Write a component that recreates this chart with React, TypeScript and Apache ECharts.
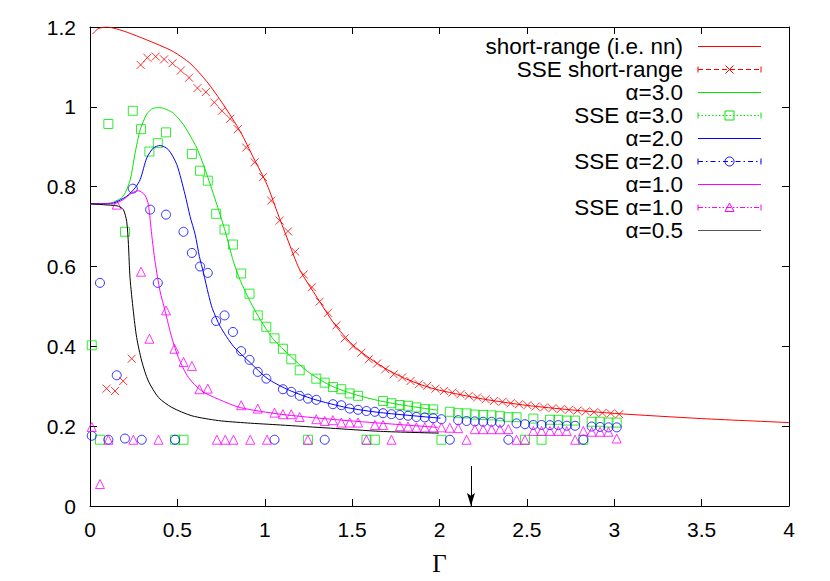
import React, { useEffect, useRef } from 'react';
import * as echarts from 'echarts';

// ---------- data (Γ, value) ----------
const shortRangeCurve = [
  [0.013, 1.182], [0.048, 1.196], [0.096, 1.2], [0.17, 1.193], [0.23, 1.184], [0.3, 1.172],
  [0.4, 1.154], [0.478, 1.138], [0.573, 1.109], [0.669, 1.063], [0.764, 1.005], [0.86, 0.938],
  [0.936, 0.872], [1.013, 0.805], [1.07, 0.738], [1.127, 0.672], [1.2, 0.592], [1.3, 0.522],
  [1.4, 0.455], [1.5, 0.405], [1.6, 0.37], [1.7, 0.342], [1.8, 0.32], [1.9, 0.303], [2.0, 0.29],
  [2.25, 0.268], [2.5, 0.252], [2.75, 0.241], [3.0, 0.232], [3.5, 0.219], [4.0, 0.209],
];
const alpha3Curve = [
  [0, 0.757], [0.1, 0.758], [0.134, 0.761], [0.19, 0.776], [0.23, 0.8175], [0.258, 0.884],
  [0.287, 0.942], [0.325, 0.982], [0.36, 0.996], [0.401, 0.998], [0.44, 0.993], [0.478, 0.984],
  [0.535, 0.955], [0.611, 0.897], [0.669, 0.83], [0.726, 0.755], [0.774, 0.688], [0.821, 0.612],
  [0.86, 0.565], [0.917, 0.512], [0.974, 0.467], [1.05, 0.4175], [1.146, 0.376], [1.242, 0.338],
  [1.375, 0.302], [1.51, 0.28], [1.662, 0.263], [1.8, 0.252], [1.99, 0.24],
];
const alpha2Curve = [
  [0, 0.757], [0.1, 0.758], [0.134, 0.759], [0.21, 0.776], [0.258, 0.797], [0.287, 0.8175],
  [0.325, 0.872], [0.363, 0.897], [0.401, 0.903], [0.449, 0.8925], [0.497, 0.855], [0.544, 0.78],
  [0.573, 0.725], [0.602, 0.68], [0.626, 0.625], [0.649, 0.585], [0.678, 0.53], [0.7, 0.495],
  [0.745, 0.45], [0.821, 0.4], [0.917, 0.359], [1.013, 0.32], [1.127, 0.2925], [1.28, 0.2675],
  [1.47, 0.2465], [1.662, 0.234], [2.006, 0.22],
];
const alpha1Curve = [
  [0, 0.757], [0.134, 0.757], [0.19, 0.7675], [0.239, 0.784], [0.277, 0.79], [0.315, 0.778],
  [0.334, 0.755], [0.353, 0.68], [0.372, 0.613], [0.401, 0.538], [0.43, 0.488], [0.468, 0.422],
  [0.506, 0.372], [0.563, 0.322], [0.64, 0.288], [0.735, 0.2675], [0.86, 0.2465], [1.089, 0.23],
  [1.375, 0.2175], [1.662, 0.2075], [1.99, 0.197],
];
const alpha05Curve = [
  [0, 0.757], [0.134, 0.753], [0.162, 0.751], [0.191, 0.7425], [0.21, 0.713], [0.22, 0.655],
  [0.229, 0.572], [0.248, 0.488], [0.267, 0.422], [0.296, 0.363], [0.334, 0.313], [0.392, 0.272],
  [0.468, 0.247], [0.583, 0.226], [0.735, 0.214], [0.9, 0.208], [1.089, 0.203], [1.375, 0.195],
  [1.662, 0.187], [1.996, 0.1825],
];

const sseShortRange = [
  [0.095, 0.294], [0.143, 0.288], [0.19, 0.313], [0.239, 0.369], [0.29, 1.105], [0.328, 1.123],
  [0.376, 1.126], [0.424, 1.119], [0.472, 1.109], [0.52, 1.091], [0.567, 1.073], [0.615, 1.047],
  [0.663, 1.037], [0.711, 1.011], [0.755, 0.99], [0.802, 0.97], [0.846, 0.944], [0.894, 0.898],
  [0.942, 0.861], [0.99, 0.824], [1.037, 0.765], [1.085, 0.715], [1.133, 0.688], [1.175, 0.637],
  [1.223, 0.58], [1.27, 0.548], [1.314, 0.512], [1.362, 0.484], [1.41, 0.4525], [1.457, 0.42],
  [1.505, 0.4], [1.553, 0.384], [1.595, 0.3675], [1.643, 0.357], [1.69, 0.3425], [1.738, 0.33],
  [1.786, 0.322], [1.834, 0.313], [1.882, 0.305], [1.93, 0.301], [1.977, 0.294], [2.025, 0.288],
  [2.073, 0.284], [2.12, 0.28], [2.168, 0.276], [2.216, 0.272], [2.264, 0.2675], [2.311, 0.263],
  [2.36, 0.261], [2.407, 0.2575], [2.455, 0.255], [2.503, 0.2525], [2.55, 0.249], [2.598, 0.247],
  [2.646, 0.245], [2.693, 0.2425], [2.741, 0.241], [2.789, 0.239], [2.837, 0.237], [2.884, 0.235],
  [2.932, 0.233], [2.98, 0.232], [3.028, 0.23],
];
const sseAlpha3 = [
  [0.01, 0.4025], [0.057, 0.166], [0.105, 0.957], [0.2, 0.687], [0.245, 0.99], [0.292, 0.944],
  [0.34, 0.888], [0.388, 0.909], [0.435, 0.936], [0.487, 0.166], [0.535, 0.166], [0.583, 0.882],
  [0.63, 0.84], [0.674, 0.815], [0.722, 0.732], [0.77, 0.6925], [0.818, 0.655], [0.865, 0.5825],
  [0.913, 0.532], [0.96, 0.4775], [1.009, 0.449], [1.056, 0.42], [1.104, 0.394], [1.152, 0.3675],
  [1.2, 0.34], [1.247, 0.166], [1.295, 0.319], [1.343, 0.309], [1.39, 0.298], [1.438, 0.2925],
  [1.486, 0.282], [1.534, 0.276], [1.582, 0.166], [1.63, 0.166], [1.677, 0.263], [1.725, 0.2575],
  [1.773, 0.253], [1.82, 0.251], [1.868, 0.247], [1.916, 0.2425], [1.964, 0.242], [2.011, 0.166],
  [2.059, 0.236], [2.107, 0.2325], [2.155, 0.232], [2.202, 0.229], [2.25, 0.228], [2.298, 0.227],
  [2.346, 0.225], [2.394, 0.2225], [2.441, 0.2225], [2.489, 0.166], [2.537, 0.219], [2.584, 0.166],
  [2.632, 0.216], [2.68, 0.216], [2.728, 0.214], [2.776, 0.214], [2.823, 0.166], [2.871, 0.211],
  [2.919, 0.211], [2.967, 0.209], [3.014, 0.209],
];
const sseAlpha2 = [
  [0.01, 0.176], [0.057, 0.559], [0.105, 0.166], [0.153, 0.3275], [0.2, 0.169], [0.245, 0.795],
  [0.296, 0.166], [0.344, 0.7425], [0.388, 0.559], [0.435, 0.73], [0.487, 0.166], [0.535, 0.687],
  [0.583, 0.634], [0.63, 0.6], [0.674, 0.584], [0.722, 0.4635], [0.77, 0.4775], [0.818, 0.436],
  [0.865, 0.388], [0.913, 0.366], [0.96, 0.336], [1.009, 0.319], [1.056, 0.166], [1.104, 0.2925],
  [1.152, 0.286], [1.2, 0.276], [1.247, 0.269], [1.295, 0.266], [1.343, 0.166], [1.39, 0.255],
  [1.438, 0.2525], [1.486, 0.244], [1.534, 0.241], [1.582, 0.238], [1.63, 0.236], [1.677, 0.2325],
  [1.725, 0.23], [1.773, 0.228], [1.82, 0.226], [1.868, 0.223], [1.916, 0.222], [1.964, 0.22],
  [2.011, 0.2175], [2.059, 0.166], [2.107, 0.215], [2.155, 0.213], [2.202, 0.212], [2.25, 0.211],
  [2.298, 0.211], [2.346, 0.209], [2.394, 0.166], [2.441, 0.207], [2.489, 0.205], [2.537, 0.203],
  [2.584, 0.203], [2.632, 0.2025], [2.68, 0.2025], [2.728, 0.201], [2.776, 0.201], [2.823, 0.166],
  [2.871, 0.199], [2.919, 0.198], [2.967, 0.197], [3.014, 0.197],
];
const sseAlpha1 = [
  [0.01, 0.198], [0.057, 0.055], [0.105, 0.166], [0.153, 0.755], [0.248, 0.166], [0.292, 0.587],
  [0.34, 0.419], [0.392, 0.166], [0.435, 0.49], [0.483, 0.394], [0.535, 0.361], [0.583, 0.351],
  [0.626, 0.2925], [0.674, 0.294], [0.726, 0.166], [0.774, 0.166], [0.821, 0.166], [0.865, 0.2525],
  [0.917, 0.166], [0.96, 0.244], [1.013, 0.166], [1.056, 0.234], [1.104, 0.23], [1.152, 0.23],
  [1.2, 0.223], [1.247, 0.166], [1.295, 0.2175], [1.343, 0.213], [1.39, 0.215], [1.438, 0.209],
  [1.486, 0.209], [1.534, 0.209], [1.582, 0.166], [1.63, 0.203], [1.677, 0.203], [1.725, 0.166],
  [1.773, 0.2], [1.82, 0.199], [1.868, 0.197], [1.916, 0.197], [1.964, 0.197], [2.011, 0.197],
  [2.059, 0.196], [2.107, 0.195], [2.155, 0.166], [2.202, 0.1925], [2.25, 0.1925], [2.298, 0.1925],
  [2.346, 0.1925], [2.394, 0.1925], [2.441, 0.166], [2.489, 0.166], [2.537, 0.188], [2.584, 0.188],
  [2.632, 0.188], [2.68, 0.188], [2.728, 0.188], [2.776, 0.166], [2.823, 0.188], [2.871, 0.186],
  [2.919, 0.186], [2.967, 0.186], [3.014, 0.169],
];

const xTicks = [0, 0.5, 1, 1.5, 2, 2.5, 3, 3.5, 4];
const yTicks = [0, 0.2, 0.4, 0.6, 0.8, 1, 1.2];

const arrowGamma = [2.18];
const arrowSpan = [0.1, 0.0];

const legendLabels = [
  'short-range (i.e. nn)', 'SSE short-range', 'α=3.0', 'SSE α=3.0', 'α=2.0',
  'SSE α=2.0', 'α=1.0', 'SSE α=1.0', 'α=0.5',
];

const RED = '#ff0000';
const GREEN = '#00e600';
const BLUE = '#0000ff';
const MAGENTA = '#ff00ff';
const BLACK = '#000000';

const X_PATH = 'path://M0,0L10,10M0,10L10,0';
const ARROW_PATH = 'path://M5,0L10,14L5,11L0,14Z';

export default function App() {
  const ref = useRef<HTMLDivElement>(null);

  useEffect(() => {
    const el = ref.current;
    if (!el) return;
    const chart = echarts.init(el, null, { renderer: 'svg' });

    const lineSeries = (data: number[][], color: string, extra: any = {}) => ({
      type: 'line',
      data,
      showSymbol: false,
      smooth: 0.25,
      clip: true,
      lineStyle: { color, width: 1 },
      itemStyle: { color },
      silent: true,
      ...extra,
    });
    const pointSeries = (data: number[][], color: string, symbol: string, size: number) => ({
      type: 'scatter',
      data,
      symbol,
      symbolSize: size,
      clip: true,
      silent: true,
      itemStyle: { color: 'rgba(0,0,0,0)', borderColor: color, borderWidth: 1 },
    });

    const legendStyles = [
      { color: RED, dash: null, mark: null },
      { color: RED, dash: [5, 3], mark: 'x' },
      { color: GREEN, dash: null, mark: null },
      { color: GREEN, dash: [1.5, 2], mark: 'rect' },
      { color: BLUE, dash: null, mark: null },
      { color: BLUE, dash: [5, 3, 1.5, 3], mark: 'circle' },
      { color: MAGENTA, dash: null, mark: null },
      { color: MAGENTA, dash: [5, 2, 1.5, 2, 1.5, 2], mark: 'triangle' },
      { color: '#555', dash: null, mark: null },
    ];

    const graphics: any[] = [];
    const textRight = 683;
    const lx1 = 698;
    const lx2 = 761;
    const mx = 729.5;
    legendLabels.forEach((label, i) => {
      const y = 46.5 + i * 23;
      const st = legendStyles[i];
      graphics.push({
        type: 'text',
        x: textRight,
        y,
        style: {
          text: label,
          fill: '#000',
          fontSize: 22.5,
          fontFamily: 'Liberation Sans, Arial, sans-serif',
          align: 'right',
          verticalAlign: 'middle',
          textAlign: 'right',
          textVerticalAlign: 'middle',
        },
      });
      graphics.push({
        type: 'line',
        shape: { x1: lx1, y1: y, x2: lx2, y2: y },
        style: { stroke: st.color, lineWidth: 1, lineDash: st.dash || undefined },
      });
      if (st.mark) {
        graphics.push({
          type: 'line',
          shape: { x1: lx1, y1: y - 3, x2: lx1, y2: y + 3 },
          style: { stroke: st.color, lineWidth: 1 },
        });
        graphics.push({
          type: 'line',
          shape: { x1: lx2, y1: y - 3, x2: lx2, y2: y + 3 },
          style: { stroke: st.color, lineWidth: 1 },
        });
        const s = { stroke: st.color, lineWidth: 1, fill: 'none' };
        if (st.mark === 'x') {
          graphics.push({ type: 'line', shape: { x1: mx - 4, y1: y - 4, x2: mx + 4, y2: y + 4 }, style: s });
          graphics.push({ type: 'line', shape: { x1: mx - 4, y1: y + 4, x2: mx + 4, y2: y - 4 }, style: s });
        } else if (st.mark === 'rect') {
          graphics.push({ type: 'rect', shape: { x: mx - 4.5, y: y - 4.5, width: 9, height: 9 }, style: s });
        } else if (st.mark === 'circle') {
          graphics.push({ type: 'circle', shape: { cx: mx, cy: y, r: 4.5 }, style: s });
        } else if (st.mark === 'triangle') {
          graphics.push({
            type: 'polygon',
            shape: { points: [[mx, y - 4.5], [mx - 4.5, y + 4], [mx + 4.5, y + 4]] },
            style: s,
          });
        }
      }
    });

    const labelStyle = {
      color: '#000',
      fontSize: 21,
      fontFamily: 'Liberation Sans, Arial, sans-serif',
    };
    const axisLine = { show: true, onZero: false, lineStyle: { color: '#000', width: 1 } };
    const axisTick = { show: true, inside: true, length: 7, lineStyle: { color: '#000', width: 1 } };

    const xMin = xTicks[0];
    const xMax = xTicks[xTicks.length - 1];
    const yMin = yTicks[0];
    const yMax = yTicks[yTicks.length - 1];

    const option: any = {
      animation: false,
      backgroundColor: '#fff',
      grid: { left: 90, right: 41, top: 27, bottom: 74, containLabel: false },
      xAxis: [
        {
          type: 'value',
          position: 'bottom',
          min: xMin,
          max: xMax,
          interval: 0.5,
          axisLine,
          axisTick,
          splitLine: { show: false },
          axisLabel: { ...labelStyle, margin: 13, formatter: (v: number) => String(v) },
          name: 'Γ',
          nameLocation: 'middle',
          nameGap: 45,
          nameTextStyle: { color: '#000', fontSize: 25, fontFamily: 'Liberation Serif, serif' },
        },
        {
          type: 'value',
          position: 'top',
          min: xMin,
          max: xMax,
          interval: 0.5,
          axisLine,
          axisTick,
          splitLine: { show: false },
          axisLabel: { show: false },
        },
      ],
      yAxis: [
        {
          type: 'value',
          position: 'left',
          min: yMin,
          max: yMax,
          interval: 0.2,
          axisLine,
          axisTick,
          splitLine: { show: false },
          axisLabel: {
            ...labelStyle,
            margin: 14,
            formatter: (v: number) => String(Math.round(v * 10) / 10),
          },
        },
        {
          type: 'value',
          position: 'right',
          min: yMin,
          max: yMax,
          interval: 0.2,
          axisLine,
          axisTick,
          splitLine: { show: false },
          axisLabel: { show: false },
        },
      ],
      graphic: graphics,
      series: [
        lineSeries(shortRangeCurve, RED),
        pointSeries(sseShortRange, RED, X_PATH, 8),
        lineSeries(alpha3Curve, GREEN),
        pointSeries(sseAlpha3, GREEN, 'rect', 9),
        lineSeries(alpha2Curve, BLUE),
        pointSeries(sseAlpha2, BLUE, 'circle', 9),
        lineSeries(alpha1Curve, MAGENTA),
        pointSeries(sseAlpha1, MAGENTA, 'triangle', 9),
        lineSeries(alpha05Curve, BLACK, {
          clip: false,
          markLine: {
            silent: true,
            animation: false,
            symbol: ['none', ARROW_PATH],
            symbolSize: [8, 13],
            symbolOffset: [0, [0, 6.5]],
            label: { show: false },
            itemStyle: { color: '#000' },
            lineStyle: { color: '#000', width: 1, type: 'solid' },
            data: [
              [
                { coord: [arrowGamma[0], arrowSpan[0]] },
                { coord: [arrowGamma[0], arrowSpan[1]] },
              ],
            ],
          },
        }),
        {
          type: 'line',
          xAxisIndex: 1,
          yAxisIndex: 1,
          data: [[xMin, yMin], [xMax, yMax]],
          showSymbol: false,
          silent: true,
          lineStyle: { opacity: 0, width: 0 },
        },
      ],
    };

    chart.setOption(option);
    return () => chart.dispose();
  }, []);

  return (
    <div
      ref={ref}
      style={{ position: 'fixed', left: 0, top: 0, width: 830, height: 581, background: '#fff' }}
    />
  );
}
